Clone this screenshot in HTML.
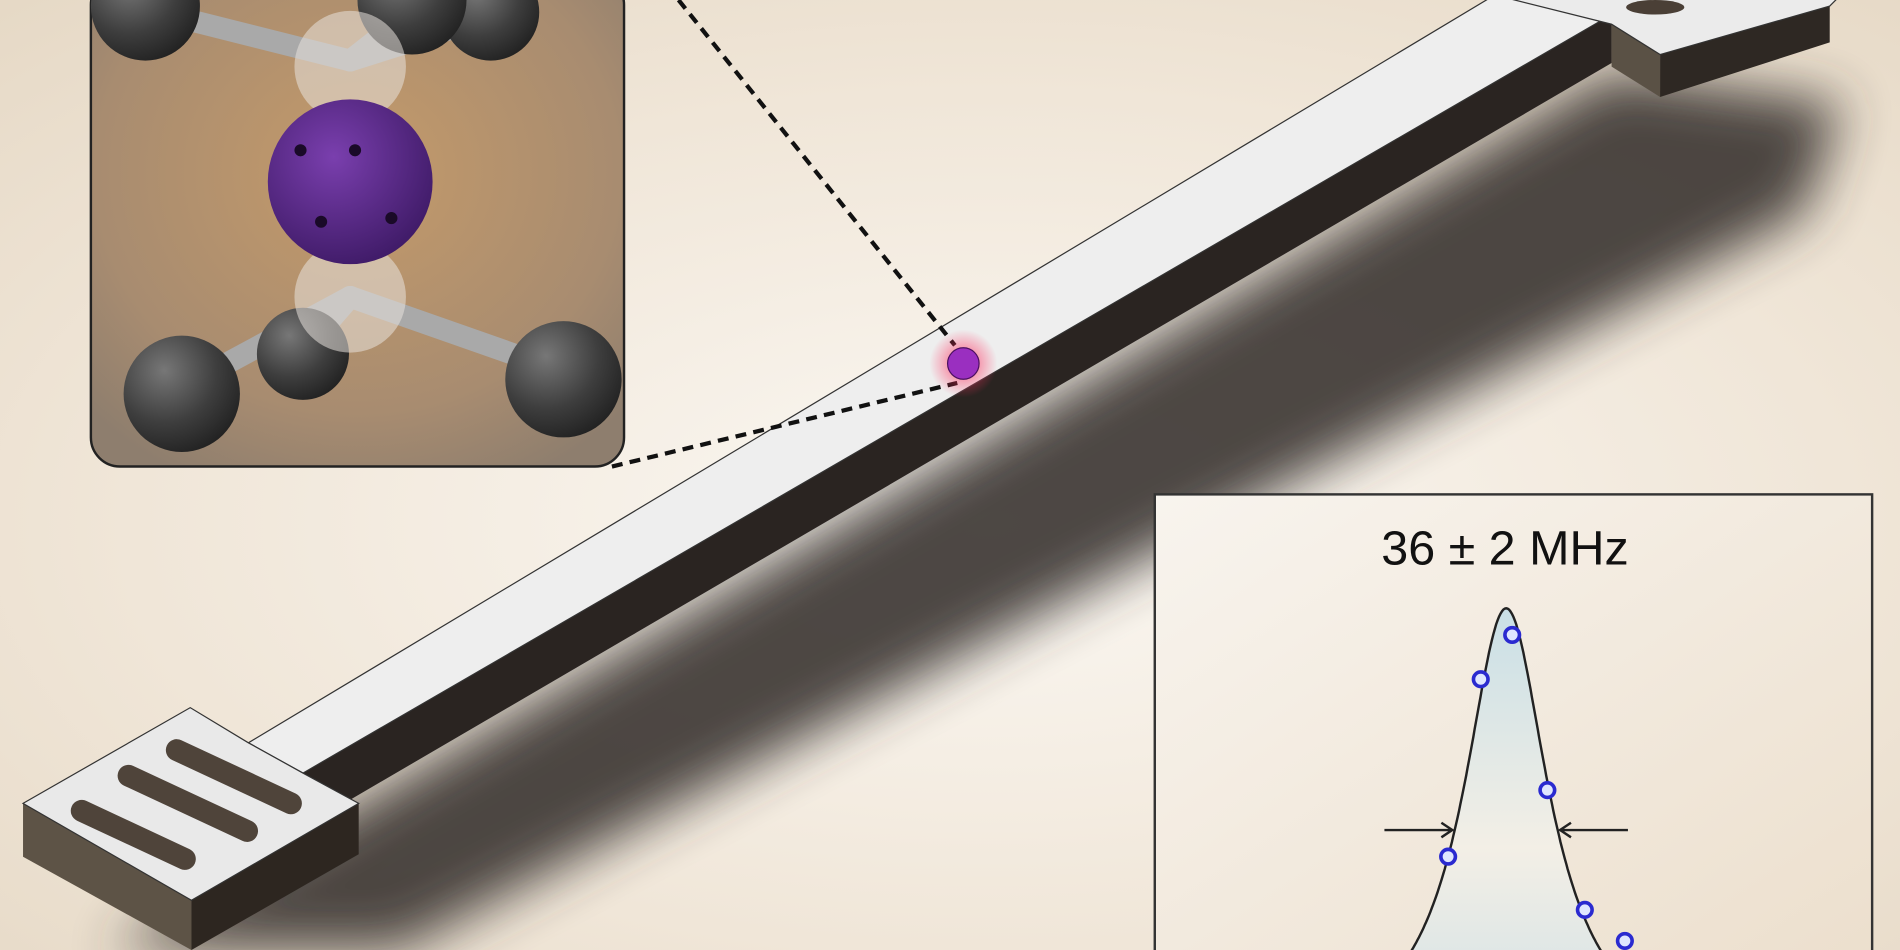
<!DOCTYPE html>
<html><head><meta charset="utf-8"><style>
html,body{margin:0;padding:0;width:1900px;height:950px;overflow:hidden;background:#efe6d9}
svg{display:block;overflow:hidden}
</style></head><body>
<svg width="1900" height="950" viewBox="0 0 1568 784" preserveAspectRatio="none" xmlns="http://www.w3.org/2000/svg">
<defs>
<clipPath id="frame"><rect width="1568" height="784"/></clipPath>
<radialGradient id="bg" cx="0.52" cy="0.55" r="0.75">
<stop offset="0" stop-color="#fbf8f3"/><stop offset="0.6" stop-color="#f0e6d8"/><stop offset="1" stop-color="#e6d9c6"/>
</radialGradient>
<radialGradient id="insetbg" cx="0.5" cy="0.4" r="0.7">
<stop offset="0" stop-color="#c49a6a"/><stop offset="0.7" stop-color="#a88c70"/><stop offset="1" stop-color="#8e7e6e"/>
</radialGradient>
<radialGradient id="purple" cx="0.4" cy="0.35" r="0.7">
<stop offset="0" stop-color="#7a3fae"/><stop offset="1" stop-color="#3e1a66"/>
</radialGradient>
<radialGradient id="gray" cx="0.35" cy="0.3" r="0.75">
<stop offset="0" stop-color="#777"/><stop offset="0.6" stop-color="#3e3e3e"/><stop offset="1" stop-color="#222"/>
</radialGradient>
<radialGradient id="glow" cx="0.5" cy="0.5" r="0.5">
<stop offset="0" stop-color="#ff3060" stop-opacity="0.8"/><stop offset="1" stop-color="#ff3060" stop-opacity="0"/>
</radialGradient>
<linearGradient id="peakfill" x1="0" y1="0" x2="0" y2="1">
<stop offset="0" stop-color="#c9dfe6"/><stop offset="0.55" stop-color="#f3efe6"/><stop offset="1" stop-color="#cfe0e6"/>
</linearGradient>
<linearGradient id="chartbg" x1="0" y1="0" x2="1" y2="1">
<stop offset="0" stop-color="#f8f4ee"/><stop offset="1" stop-color="#ecdfcd"/>
</linearGradient>
<filter id="blur" x="-20%" y="-50%" width="140%" height="200%"><feGaussianBlur stdDeviation="22"/></filter>
</defs>
<g clip-path="url(#frame)">
<rect width="1568" height="784" fill="url(#bg)"/>
<polygon points="90,784 1330,60 1520,85 1490,175 330,784" fill="#3a3530" filter="url(#blur)" opacity="0.9"/>
<polygon points="250,638 1330,12 1330,52 289,660" fill="#2a2421"/>
<polygon points="205,613 1240,-8 1330,-8 1330,12 250,638" fill="#eeeeee" stroke="#333" stroke-width="1"/>
<g>
<polygon points="1370,45 1510,5 1510,35 1370,80" fill="#2e2823"/>
<polygon points="1330,20 1370,45 1370,80 1330,55" fill="#5a5145"/>
<polygon points="1230,-5 1520,-5 1510,5 1370,45 1330,20" fill="#ebebeb" stroke="#333" stroke-width="1"/>
<ellipse cx="1366" cy="6" rx="24" ry="6" fill="#4a3f36"/>
</g>
<g>
<polygon points="19,663 158,743 158,784 19,707" fill="#5d5346"/>
<polygon points="158,743 296,663 296,705 158,784" fill="#2d2620"/>
<polygon points="19,663 157,584 205,613 250,638 296,663 158,743" fill="#e9e9e9" stroke="#333" stroke-width="1"/>
<g fill="#4f443a">
<rect x="-56" y="-9" width="112" height="18" rx="9" transform="translate(110,689) rotate(25)"/>
<rect x="-63" y="-9" width="126" height="18" rx="9" transform="translate(155,663) rotate(25)"/>
<rect x="-61" y="-9" width="122" height="18" rx="9" transform="translate(193,641) rotate(25)"/>
</g>
</g>
<line x1="560" y1="0" x2="788" y2="285" stroke="#111" stroke-width="3.5" stroke-dasharray="9,6"/>
<line x1="505" y1="385" x2="790" y2="316" stroke="#111" stroke-width="3.5" stroke-dasharray="9,6"/>
<circle cx="795" cy="300" r="28" fill="url(#glow)"/>
<circle cx="795" cy="300" r="13" fill="#9a2fc0" stroke="#4a1060" stroke-width="1"/>
<g>
<rect x="75" y="-20" width="440" height="405" rx="24" fill="url(#insetbg)" stroke="#222" stroke-width="2"/>
<g stroke="#a9a9a9" stroke-width="18" stroke-linecap="round">
<line x1="289" y1="50" x2="150" y2="15"/><line x1="289" y1="50" x2="340" y2="10"/><line x1="289" y1="50" x2="400" y2="15"/>
<line x1="289" y1="245" x2="150" y2="320"/><line x1="289" y1="245" x2="250" y2="290"/><line x1="289" y1="245" x2="460" y2="305"/>
</g>
<circle cx="120" cy="5" r="45" fill="url(#gray)"/>
<circle cx="405" cy="10" r="40" fill="url(#gray)"/>
<circle cx="340" cy="0" r="45" fill="url(#gray)"/>
<circle cx="250" cy="292" r="38" fill="url(#gray)"/>
<circle cx="150" cy="325" r="48" fill="url(#gray)"/>
<circle cx="465" cy="313" r="48" fill="url(#gray)"/>
<circle cx="289" cy="55" r="46" fill="#e8e2dc" opacity="0.55"/>
<circle cx="289" cy="245" r="46" fill="#e8e2dc" opacity="0.55"/>
<circle cx="289" cy="150" r="68" fill="url(#purple)"/>
<g fill="#1a0a28"><circle cx="248" cy="124" r="5"/><circle cx="293" cy="124" r="5"/><circle cx="265" cy="183" r="5"/><circle cx="323" cy="180" r="5"/></g>
</g>
<g>
<rect x="953" y="408" width="592" height="390" fill="url(#chartbg)" stroke="#333" stroke-width="2"/>
<text x="1242" y="466" text-anchor="middle" font-family="Liberation Sans, sans-serif" font-size="40" fill="#111">36 ± 2 MHz</text>
<g id="plot"></g>
</g>
</g>
</svg>
<script>
const freqOffsets = [-20.3, -8.9, 2.1, 14.4, 27.5, 41.5];
const amplitudes = [0.44, 0.84, 0.94, 0.59, 0.32, 0.25];
const fitCenter = [0];
const fitFwhm = [36];
const NS = 'http://www.w3.org/2000/svg';
const x0 = 1243, pxPerMHz = 2.36, yBase = 868, yPeak = 502;
const xScale = f => x0 + f * pxPerMHz;
const yScale = a => yBase - a * (yBase - yPeak);
const g = document.getElementById('plot');
const gam = fitFwhm[0] / 2;
const lor = f => 1 / (1 + Math.pow((f - fitCenter[0]) / gam, 2));
let d = '';
for (let f = -120; f <= 130; f += 0.5) {
  d += (d ? 'L' : 'M') + xScale(f).toFixed(1) + ',' + yScale(lor(f)).toFixed(1);
}
const fill = document.createElementNS(NS, 'path');
fill.setAttribute('d', d + 'L' + xScale(130) + ',790L' + xScale(-120) + ',790Z');
fill.setAttribute('fill', 'url(#peakfill)');


g.appendChild(fill);
const line = document.createElementNS(NS, 'path');
line.setAttribute('d', d);
line.setAttribute('fill', 'none');
line.setAttribute('stroke', '#222');
line.setAttribute('stroke-width', '2');


g.appendChild(line);
const hy = yScale(0.5);
const xl = xScale(fitCenter[0] - gam), xr = xScale(fitCenter[0] + gam);
[[xl - 58, xl - 2], [xr + 58, xr + 2]].forEach((p, i) => {
  const a = document.createElementNS(NS, 'path');
  const dir = p[1] > p[0] ? -1 : 1;
  a.setAttribute('d', `M${p[0]},${hy}L${p[1]},${hy}M${p[1] + dir * 9},${hy - 6}L${p[1]},${hy}L${p[1] + dir * 9},${hy + 6}`);
  a.setAttribute('stroke', '#222');
  a.setAttribute('stroke-width', '2');
  a.setAttribute('fill', 'none');
  
  
  g.appendChild(a);
});
freqOffsets.forEach((f, i) => {
  const c = document.createElementNS(NS, 'circle');
  c.setAttribute('cx', xScale(f));
  c.setAttribute('cy', yScale(amplitudes[i]));
  c.setAttribute('r', 6);
  c.setAttribute('fill', '#dfe6ff');
  c.setAttribute('stroke', '#2a2ad0');
  c.setAttribute('stroke-width', '3');
  
  
  g.appendChild(c);
});
</script>
</body></html>
